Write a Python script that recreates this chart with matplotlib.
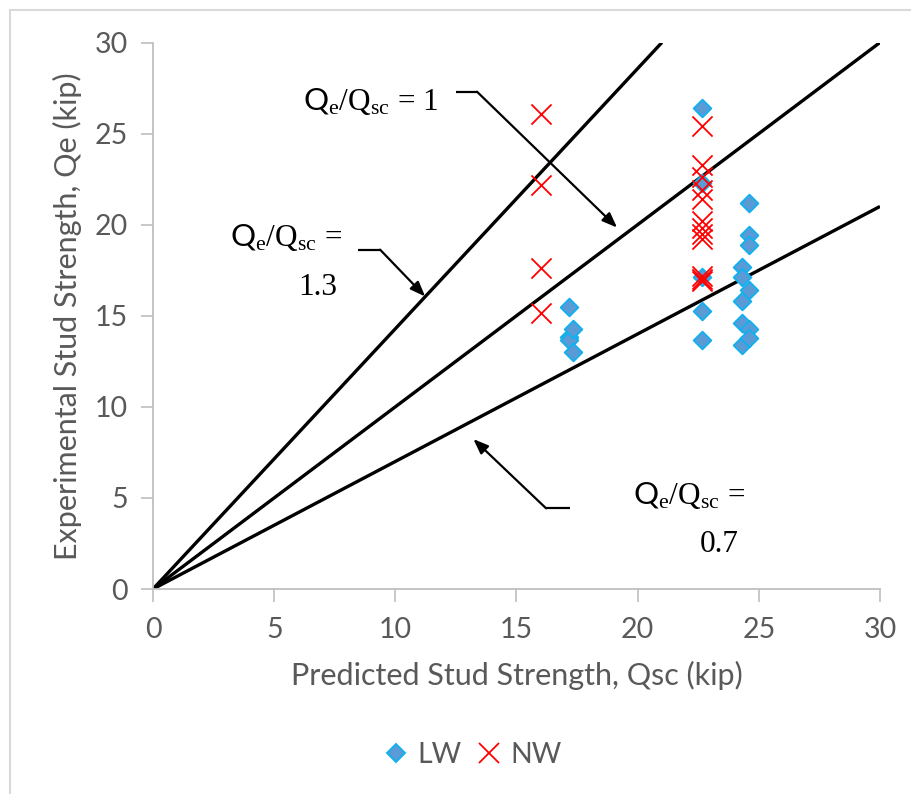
import matplotlib
matplotlib.use("Agg")
import matplotlib.pyplot as plt
from matplotlib.lines import Line2D

plt.rcParams["font.family"] = ["Lato", "DejaVu Sans"]
plt.rcParams["mathtext.fontset"] = "custom"
plt.rcParams["mathtext.rm"] = "Liberation Serif"
plt.rcParams["mathtext.it"] = "Liberation Serif"
plt.rcParams["mathtext.sf"] = "Lato"

# Lightweight (LW) specimens: predicted vs experimental stud strength (kip)
lw_qsc = [17.15, 17.15, 17.15, 17.35, 17.35,
          22.65, 22.65, 22.65, 22.65, 22.65,
          24.3, 24.3, 24.3, 24.3, 24.3,
          24.6, 24.6, 24.6, 24.6, 24.6, 24.6]
lw_qe = [15.5, 13.85, 13.65, 14.3, 13.0,
         26.4, 22.3, 17.15, 15.25, 13.65,
         17.7, 17.15, 15.8, 14.6, 13.4,
         21.2, 19.45, 18.9, 16.4, 14.25, 13.8]

# Normal-weight (NW) specimens
nw_qsc = [16.0, 16.0, 16.0, 16.0,
          22.65, 22.65, 22.65, 22.65, 22.65, 22.65,
          22.65, 22.65, 22.65, 22.65, 22.65, 22.65]
nw_qe = [26.05, 22.2, 17.6, 15.15,
         25.4, 23.3, 22.6, 21.9, 21.4, 20.2,
         19.8, 19.5, 19.2, 17.2, 17.0, 16.9]

# Reference ratio lines through the origin
ratio_x = {"1.3": [0, 21], "1": [0, 30], "0.7": [0, 30]}
ratio_y = {"1.3": [0, 30], "1": [0, 30], "0.7": [0, 21]}

x_ticks = [0, 5, 10, 15, 20, 25, 30]
y_ticks = [0, 5, 10, 15, 20, 25, 30]

W, H = 912, 794
fig = plt.figure(figsize=(W / 100, H / 100), dpi=100)
ax = fig.add_axes([153 / W, 1 - 589 / H, (880 - 153) / W, (589 - 42.5) / H])

gray_txt = "#595959"
gray_axis = "#BFBFBF"

for k in ratio_x:
    ax.plot(ratio_x[k], ratio_y[k], color="black", lw=2.4, solid_capstyle="butt", zorder=2)

ax.scatter(lw_qsc, lw_qe, marker="D", s=80, facecolor="#5B9BD5", edgecolor="#12B0EE",
           linewidths=1.4, zorder=3, label="LW")
ax.scatter(nw_qsc, nw_qe, marker="x", s=210, color="#FF0000", linewidths=1.3,
           zorder=4, label="NW")

ax.set_xlim(0, 30)
ax.set_ylim(0, 30)
ax.set_xticks(x_ticks)
ax.set_yticks(y_ticks)
ax.tick_params(axis="both", direction="out", length=9, width=1.2, color=gray_axis,
               labelcolor=gray_txt, labelsize=20.5)
ax.tick_params(axis="x", pad=11)
ax.tick_params(axis="y", pad=9)
for side in ("top", "right"):
    ax.spines[side].set_visible(False)
for side in ("left", "bottom"):
    ax.spines[side].set_color(gray_axis)
    ax.spines[side].set_linewidth(1.3)

ax.set_xlabel("Predicted Stud Strength, Qsc (kip)", fontsize=22, color=gray_txt, labelpad=13)
ax.set_ylabel("Experimental Stud Strength, Qe (kip)", fontsize=22, color=gray_txt, labelpad=9)

# Callout labels for the ratio lines
serif = ["Liberation Serif", "DejaVu Serif"]
lbl = r"$\mathsf{Q}_\mathrm{e}/\mathrm{Q}_\mathrm{sc}$ ="
fs = 22.5
ax.text(6.19, 26.75, lbl + " 1", fontsize=fs, ha="left", va="center", family=serif)
ax.text(3.18, 19.3, lbl, fontsize=fs, ha="left", va="center", family=serif)
ax.text(6.79, 16.55, "1.3", fontsize=fs, ha="center", va="center", family=serif)
ax.text(19.8, 5.16, lbl, fontsize=fs, ha="left", va="center", family=serif)
ax.text(23.36, 2.42, "0.7", fontsize=fs, ha="center", va="center", family=serif)

# Leader lines with arrowheads
leaders = [
    ((12.52, 27.30), (13.37, 27.30), (19.15, 19.84)),
    ((8.47, 18.63), (9.37, 18.63), (11.23, 16.06)),
    ((17.21, 4.43), (16.22, 4.43), (13.22, 8.23)),
]
for start, corner, tip in leaders:
    ax.plot([start[0], corner[0]], [start[1], corner[1]], color="black", lw=1.6,
            solid_capstyle="butt", zorder=2)
    ax.annotate("", xy=tip, xytext=corner,
                arrowprops=dict(arrowstyle="-|>,head_length=0.9,head_width=0.35",
                                color="black", lw=1.6, shrinkA=0, shrinkB=0))

leg = fig.legend(handles=[
    Line2D([], [], marker="D", ls="none", markersize=9.5, markerfacecolor="#5B9BD5",
           markeredgecolor="#12B0EE", markeredgewidth=1.4, label="LW"),
    Line2D([], [], marker="x", ls="none", markersize=14, color="#FF0000",
           markeredgewidth=1.3, label="NW"),
], loc="center", bbox_to_anchor=(473 / W, 1 - 755 / H), ncol=2, frameon=False,
    fontsize=20.5, handlelength=0.8, handletextpad=0.35, columnspacing=0.55)
for t in leg.get_texts():
    t.set_color(gray_txt)

# Chart-area border
border = "#D9D9D9"
fig.add_artist(Line2D([10 / W, 10 / W], [0, 1 - 10 / H], transform=fig.transFigure,
                      color=border, lw=1.5))
fig.add_artist(Line2D([10 / W, 1], [1 - 10 / H, 1 - 10 / H], transform=fig.transFigure,
                      color=border, lw=1.5))

fig.savefig("out.png", dpi=100, facecolor="white")
